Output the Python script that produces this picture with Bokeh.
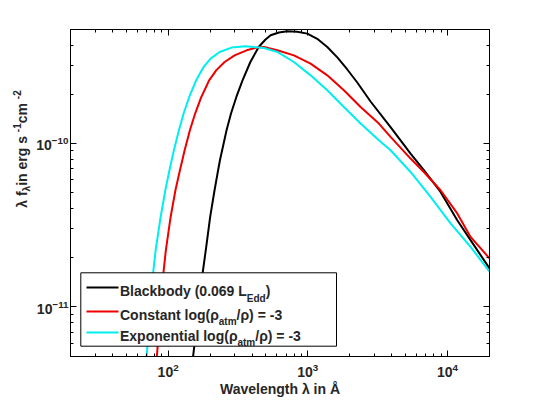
from math import pi

from bokeh.embed import file_html
from bokeh.layouts import row
from bokeh.models import (BoxAnnotation, CustomJSTickFormatter, Label, LogAxis,
                          LogTicker, PolyAnnotation, Range1d)
from bokeh.plotting import figure
from bokeh.resources import INLINE

# Wavelength (Angstrom) and lambda*f_lambda (erg s^-1 cm^-2) for each model spectrum
bb_wave = [133, 151, 162, 171, 177, 186, 200, 215, 228, 235, 262, 282, 308, 341,
           388, 445, 496, 542, 621, 713, 841, 992, 1169, 1379, 1627, 1918, 2261,
           2815, 3914, 5443, 6777, 8925, 11755, 14637, 20000]
bb_flux = [2.0e-12, 5.0e-12, 8.29e-12, 1.265e-11, 1.63e-11, 2.22e-11, 3.55e-11,
           5.17e-11, 6.86e-11, 7.89e-11, 1.205e-10, 1.524e-10, 1.925e-10,
           2.434e-10, 3.15e-10, 3.89e-10, 4.31e-10, 4.59e-10, 4.77e-10, 4.86e-10,
           4.83e-10, 4.70e-10, 4.37e-10, 3.89e-10, 3.36e-10, 2.835e-10, 2.36e-10,
           1.806e-10, 1.26e-10, 8.67e-11, 6.86e-11, 5.05e-11, 3.39e-11, 2.56e-11,
           1.72e-11]

const_wave = [77, 83.1, 86.9, 90.3, 92.7, 96.3, 104.2, 112.8, 121.5, 131.3, 143.2,
              156.1, 172.9, 196.6, 220.7, 253.8, 299.2, 364.7, 430.1, 485, 605, 795,
              1047, 1379, 1813, 2388, 3228, 3914, 5443, 6777, 8925, 11755, 14637,
              20000]
const_flux = [2.0e-12, 5.0e-12, 8.29e-12, 1.265e-11, 1.63e-11, 2.22e-11, 3.55e-11,
              5.17e-11, 6.86e-11, 9.09e-11, 1.205e-10, 1.524e-10, 1.925e-10,
              2.434e-10, 2.80e-10, 3.15e-10, 3.46e-10, 3.715e-10, 3.86e-10,
              3.89e-10, 3.72e-10, 3.46e-10, 3.08e-10, 2.61e-10, 2.115e-10,
              1.67e-10, 1.323e-10, 1.096e-10, 8.08e-11, 6.69e-11, 5.17e-11,
              3.73e-11, 2.68e-11, 1.98e-11]

expo_wave = [65, 70.2, 73.3, 76.2, 78.2, 81.4, 88.4, 95.5, 102.2, 110, 119.5, 129.1,
             141.6, 158.7, 179.5, 201.5, 233.8, 284.7, 358.7, 485, 605, 795, 1047,
             1379, 1813, 2388, 3228, 3914, 5443, 7568, 10525, 14637, 20000]
expo_flux = [2.0e-12, 5.0e-12, 8.29e-12, 1.265e-11, 1.63e-11, 2.22e-11, 3.55e-11,
             5.17e-11, 6.86e-11, 9.09e-11, 1.205e-10, 1.524e-10, 1.925e-10,
             2.434e-10, 2.937e-10, 3.305e-10, 3.63e-10, 3.86e-10, 3.93e-10,
             3.835e-10, 3.63e-10, 3.15e-10, 2.61e-10, 2.115e-10, 1.67e-10,
             1.323e-10, 1.046e-10, 9.09e-11, 6.69e-11, 4.71e-11, 3.24e-11,
             2.33e-11, 1.64e-11]

x_limits = (20, 2e4)
y_limits = (4.97e-12, 4.98e-10)

FONT = "Liberation Sans"
INK = "#262626"
RED = "#ee0000"
CYAN = "#00eeee"

# canvas layout: a narrow strip for the vertical title, then the plot
STRIP = 33
FL, FT, FR, FB = 69, 29, 489, 356   # plot frame edges on the 540x400 canvas

p = figure(width=540 - STRIP, height=400, x_axis_type="log", y_axis_type="log",
           x_range=Range1d(*x_limits), y_range=Range1d(*y_limits),
           output_backend="svg", toolbar_location=None,
           min_border_left=FL - STRIP, min_border_right=540 - FR,
           min_border_top=FT, min_border_bottom=400 - FB)
p.xgrid.visible = False
p.ygrid.visible = False
p.outline_line_color = "black"
p.background_fill_color = "white"
p.border_fill_color = "white"

blank = CustomJSTickFormatter(code="return ''")
p.add_layout(LogAxis(formatter=blank), "above")
p.add_layout(LogAxis(formatter=blank), "right")

for ax in p.axis:
    ax.ticker = LogTicker(num_minor_ticks=10)
    ax.major_tick_in = 6
    ax.major_tick_out = 0
    ax.minor_tick_in = 3
    ax.minor_tick_out = 0
    ax.axis_line_color = "black"
    ax.major_tick_line_color = "black"
    ax.minor_tick_line_color = "black"
    ax.major_label_text_font = FONT
    ax.major_label_text_font_style = "bold"
    ax.major_label_text_font_size = "14px"
    ax.major_label_text_color = INK

xax = p.below[0]
yax = p.left[0]
xax.major_label_standoff = 6
yax.major_label_standoff = 2
xax.axis_label = "Wavelength λ in Å"
xax.axis_label_text_font = FONT
xax.axis_label_text_font_style = "bold"
xax.axis_label_text_font_size = "14px"
xax.axis_label_text_color = INK
xax.axis_label_standoff = 1

# spectra
p.line(bb_wave, bb_flux, line_color="black", line_width=2)
p.line(const_wave, const_flux, line_color=RED, line_width=2)
p.line(expo_wave, expo_flux, line_color=CYAN, line_width=2)

# advance widths (per 1000 em) for the bold sans face, used to chain rich-text runs
ADV = {" ": 278, "a": 556, "b": 611, "c": 556, "d": 611, "e": 556, "f": 333,
       "g": 611, "h": 611, "i": 278, "k": 556, "l": 278, "m": 889, "n": 611,
       "o": 611, "p": 611, "r": 389, "s": 556, "t": 333, "u": 611, "x": 556,
       "y": 556, "B": 722, "C": 722, "E": 667, "L": 611, "(": 333, ")": 333,
       ".": 278, "/": 278, "=": 584, "-": 333, "λ": 556, "ρ": 611,
       "0": 556, "1": 556, "2": 556, "3": 556, "6": 556, "9": 556}


def width(s, size):
    return sum(ADV.get(c, 556) for c in s) * size / 1000


def put(fig, sx, sy, s, size, angle=0):
    fig.add_layout(Label(x=sx, y=sy, x_units="screen", y_units="screen",
                         text=s, angle=angle, text_align="left",
                         text_baseline="alphabetic", text_font=FONT,
                         text_font_style="bold", text_font_size=f"{size}px",
                         text_color=INK))


MAIN, SUB = 14, 10

# vertical axis title, drawn in its own strip left of the plot
q = figure(width=STRIP, height=400, x_range=(0, 1), y_range=(0, 1),
           x_axis_location=None, y_axis_location=None,
           output_backend="svg", toolbar_location=None, min_border=0)
q.xgrid.visible = False
q.ygrid.visible = False
q.outline_line_color = None
q.border_fill_color = "white"
q.background_fill_color = "white"

ylab = [("λ f", MAIN, 0), ("λ", SUB, 5), (" in erg s", MAIN, 0), ("-1", SUB, -5),
        (" cm", MAIN, 0), ("-2", SUB, -5)]
ylen = sum(width(s, size) for s, size, _ in ylab)
yy = (FT + FB) / 2 + ylen / 2
for s, size, dx in ylab:
    put(q, 21 + dx, 400 - yy, s, size, angle=pi / 2)
    yy -= width(s, size)

# legend box, sample lines and rich-text entries
p.add_layout(BoxAnnotation(left=79.3 - FL, right=335 - FL, top=FB - 272.3, bottom=FB - 345.7,
                           left_units="screen", right_units="screen",
                           top_units="screen", bottom_units="screen",
                           fill_color="white", fill_alpha=1,
                           line_color="black", line_alpha=1, line_width=1))
rows = [
    ("black", 287, 290.7, [("Blackbody (0.069 L", MAIN, 0), ("Edd", SUB, 7), (")", MAIN, 0)]),
    (RED, 311, 314, [("Constant log(ρ", MAIN, 0), ("atm", SUB, 7), ("/ρ) = -3", MAIN, 0)]),
    (CYAN, 332, 335, [("Exponential log(ρ", MAIN, 0), ("atm", SUB, 7), ("/ρ) = -3", MAIN, 0)]),
]
for color, ly, base, runs in rows:
    p.add_layout(PolyAnnotation(xs=[85 - FL, 117 - FL], ys=[FB - ly, FB - ly],
                                xs_units="screen", ys_units="screen",
                                fill_alpha=0, line_color=color, line_alpha=1,
                                line_width=2))
    xx = 118.5
    for s, size, dy in runs:
        put(p, xx - FL, FB - (base + dy), s, size)
        xx += width(s, size)

layout = row(q, p)
open("out.html", "w").write(file_html(layout, INLINE))
